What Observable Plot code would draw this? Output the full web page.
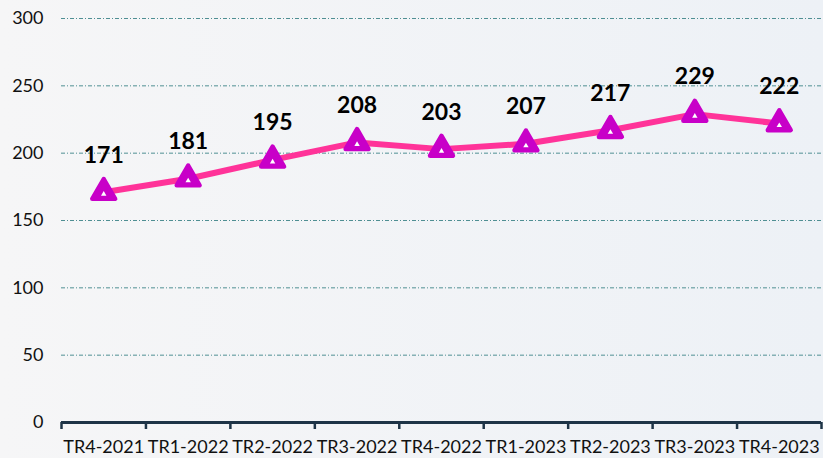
<!DOCTYPE html>
<html>
<head>
<meta charset="utf-8">
<script src="https://cdn.jsdelivr.net/npm/d3@7"></script>
<script src="https://cdn.jsdelivr.net/npm/@observablehq/plot@0.6"></script>
<style>
  html, body { margin: 0; padding: 0; background: #f4f5f7; }
  #chart svg { display: block; }
</style>
</head>
<body>
<div id="chart"></div>
<script>
const quarters = ["TR4-2021","TR1-2022","TR2-2022","TR3-2022","TR4-2022","TR1-2023","TR2-2023","TR3-2023","TR4-2023"];
const values = [171, 181, 195, 208, 203, 207, 217, 229, 222];
const yTicks = [0, 50, 100, 150, 200, 250, 300];

const data = quarters.map((q, i) => ({q, i: i + 0.5, v: values[i]}));
const centers = quarters.map((q, i) => i + 0.5);
const bounds = d3.range(quarters.length + 1);

const chart = Plot.plot({
  width: 823,
  height: 458,
  marginLeft: 61,
  marginRight: 2,
  marginTop: 18,
  marginBottom: 36,
  style: {
    background: "linear-gradient(to right, #f6f6f7, #edf1f6)",
    fontFamily: "Lato, 'Open Sans', sans-serif",
    fontSize: "16px",
    color: "#111"
  },
  x: {domain: [0, quarters.length], label: null},
  y: {domain: [0, 300], label: null},
  marks: [
    Plot.gridY(yTicks.filter(t => t > 0), {stroke: "#4f8f93", strokeOpacity: 1, strokeWidth: 1, strokeDasharray: "4,2,1,2"}),
    Plot.axisY(yTicks, {tickSize: 0, tickPadding: 18, fontSize: 18, fill: "#111", label: null}),
    Plot.axisX(centers, {tickSize: 0, tickPadding: 18, fontSize: 18, fill: "#111", label: null, tickFormat: d => quarters[Math.floor(d)]}),
    Plot.axisX(bounds, {tickSize: 7, tickFormat: () => "", label: null, stroke: "#1e3447", strokeWidth: 2.5}),
    Plot.ruleY([0], {stroke: "#1e3447", strokeWidth: 3}),
    Plot.line(data, {x: "i", y: "v", stroke: "#ff3399", strokeWidth: 6}),
    Plot.dot(data, {x: "i", y: "v", symbol: "triangle", r: 8.5, fill: "#c800c8", stroke: "#c800c8", strokeWidth: 4.5, strokeLinejoin: "round"}),
    Plot.dot(data, {x: "i", y: "v", symbol: "triangle", r: 2, fill: "white", dy: 2}),
    Plot.text(data, {x: "i", y: "v", text: d => String(d.v), dy: -37, fontSize: 23, fontWeight: "bold", fill: "#000"})
  ]
});
document.getElementById("chart").appendChild(chart);
</script>
</body>
</html>
